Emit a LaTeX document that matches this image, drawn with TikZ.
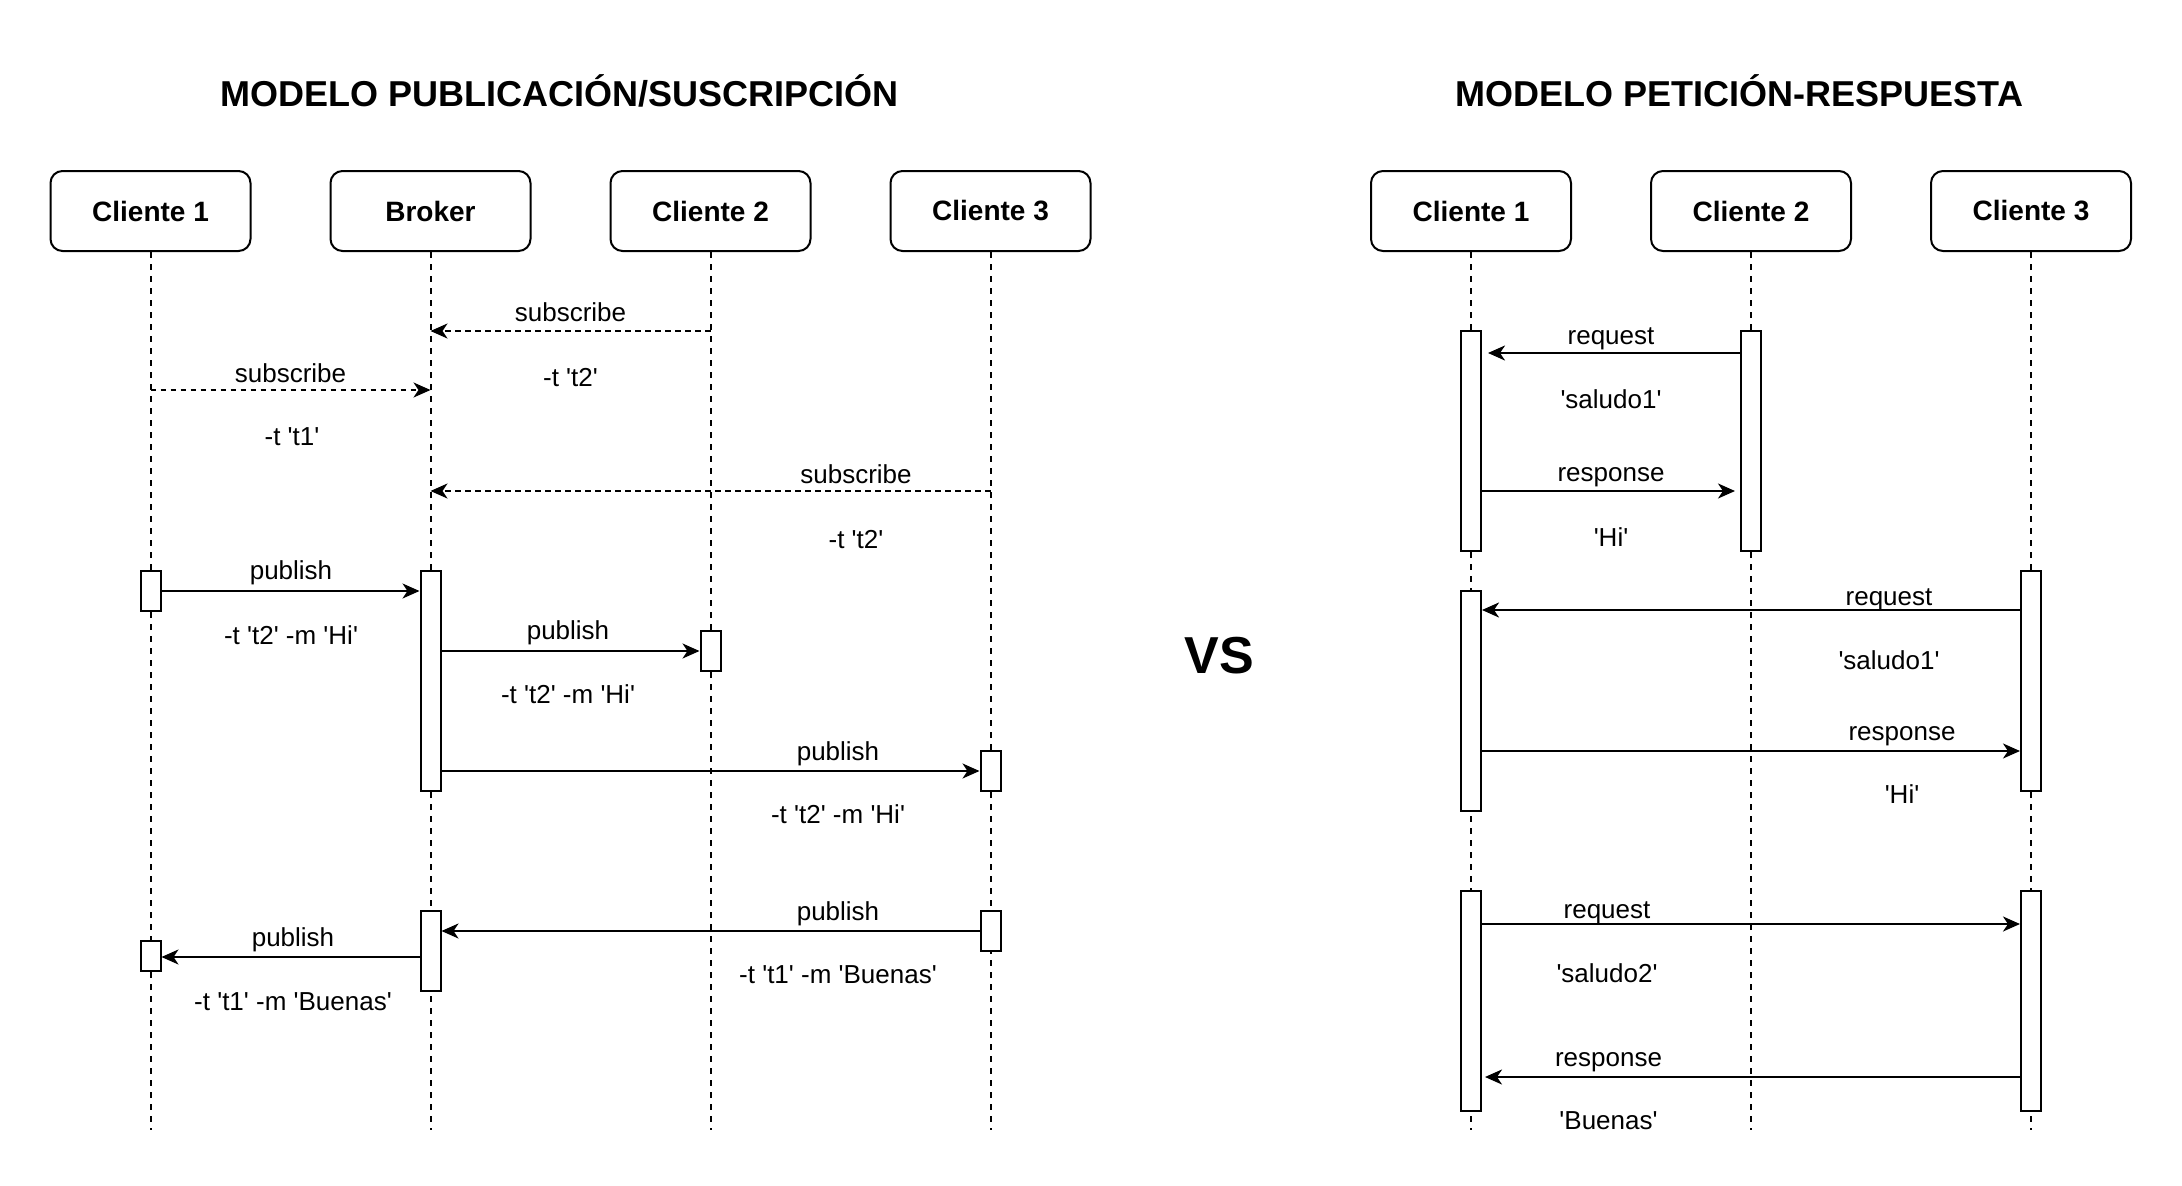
\documentclass[tikz,border=0pt]{standalone}
\usepackage{fontspec}
\setmainfont{Liberation Sans}
\usetikzlibrary{arrows.meta}
\newcommand{\myq}{\textquotesingle}
\begin{document}
\begin{tikzpicture}[x=1pt,y=-1pt,
  head/.style={draw, line width=2pt, rounded corners=12pt, minimum width=200pt, minimum height=80pt, inner sep=0pt, font=\fontsize{28}{34}\selectfont\bfseries},
  act/.style={draw, fill=white, line width=2pt, minimum width=20pt, inner sep=0pt},
  life/.style={line width=2pt, dash pattern=on 6pt off 6pt},
  msg/.style={line width=2.2pt, -{Stealth[length=17pt,width=15pt,inset=5pt]}},
  sub/.style={msg, dash pattern=on 5.5pt off 4.5pt},
  lbl/.style={font=\fontsize{26}{31}\selectfont, text height=19pt, text depth=0pt, inner sep=0pt, yshift=1.5pt},
  ttl/.style={font=\fontsize{36}{43}\selectfont\bfseries, anchor=base, inner sep=0pt}
]
\fill[white] (0,0) rectangle (2182,1186);
\useasboundingbox (0,0) rectangle (2182,1186);

% titles
\node[ttl] (t1) at (559.5,106) {MODELO PUBLICACIÓN/SUSCRIPCIÓN};
\node[ttl] (t2) at (1739.5,106) {MODELO PETICIÓN-RESPUESTA};
\node[font=\fontsize{52}{62}\selectfont\bfseries, inner sep=0pt] (vs) at (1219,656) {VS};

% heads left
\node[head] (h1) at (150.5,211) {Cliente 1};
\node[head] (h2) at (430.5,211) {Broker};
\node[head] (h3) at (710.5,211) {Cliente 2};
\node[head] (h4) at (990.5,211) {Cliente 3};
% heads right
\node[head] (k1) at (1471,211) {Cliente 1};
\node[head] (k2) at (1751,211) {Cliente 2};
\node[head] (k3) at (2031,211) {Cliente 3};

% lifeline ends
\coordinate (e1) at (150.5,1130);
\coordinate (e2) at (430.5,1130);
\coordinate (e3) at (710.5,1130);
\coordinate (e4) at (990.5,1130);
\coordinate (f1) at (1471,1130);
\coordinate (f2) at (1751,1130);
\coordinate (f3) at (2031,1130);
\foreach \h/\e in {h1/e1,h2/e2,h3/e3,h4/e4,k1/f1,k2/f2,k3/f3}
  \draw[life] (\h.south) -- (\e);

% activations left
\node[act, minimum height=40pt] (a1) at (150.5,591) {};
\node[act, minimum height=220pt] (b1) at (430.5,681) {};
\node[act, minimum height=40pt] (c2a) at (710.5,651) {};
\node[act, minimum height=40pt] (c3a) at (990.5,771) {};
\node[act, minimum height=40pt] (c3b) at (990.5,931) {};
\node[act, minimum height=80pt] (b2) at (430.5,951) {};
\node[act, minimum height=30pt] (a2) at (150.5,956) {};

% activations right
\node[act, minimum height=220pt] (r1a) at (1471,441) {};
\node[act, minimum height=220pt] (r2a) at (1751,441) {};
\node[act, minimum height=220pt] (r3a) at (2031,681) {};
\node[act, minimum height=220pt] (r1b) at (1471,701) {};
\node[act, minimum height=220pt] (r1c) at (1471,1001) {};
\node[act, minimum height=220pt] (r3b) at (2031,1001) {};

% left messages
\draw[sub] (h3.south |- 0,331) -- (h2.south |- 0,331);
\node[lbl] (l1a) at (570.5,313) {subscribe};
\node[lbl] (l1b) at (570.5,378) {-t \myq t2\myq};

\draw[sub] (h1.south |- 0,390) -- (h2.south |- 0,390);
\node[lbl] (l2a) at (290.5,374) {subscribe};
\node[lbl] (l2b) at (292,437) {-t \myq t1\myq};

\draw[sub] (h4.south |- 0,491) -- (h2.south |- 0,491);
\node[lbl] (l3a) at (856,475) {subscribe};
\node[lbl] (l3b) at (856,540) {-t \myq t2\myq};

\draw[msg] (a1.east |- 0,591) -- (b1.west |- 0,591);
\node[lbl] (l4a) at (291,571) {publish};
\node[lbl] (l4b) at (291,636) {-t \myq t2\myq{} -m \myq Hi\myq};

\draw[msg] (b1.east |- 0,651) -- (c2a.west |- 0,651);
\node[lbl] (l5a) at (568,631) {publish};
\node[lbl] (l5b) at (568,695) {-t \myq t2\myq{} -m \myq Hi\myq};

\draw[msg] (b1.east |- 0,771) -- (c3a.west |- 0,771);
\node[lbl] (l6a) at (838,752) {publish};
\node[lbl] (l6b) at (838,815) {-t \myq t2\myq{} -m \myq Hi\myq};

\draw[msg] (c3b.west |- 0,931) -- (b2.east |- 0,931);
\node[lbl] (l7a) at (838,912) {publish};
\node[lbl] (l7b) at (838,975) {-t \myq t1\myq{} -m \myq Buenas\myq};

\draw[msg] (b2.west |- 0,957) -- (a2.east |- 0,957);
\node[lbl] (l8a) at (293,938) {publish};
\node[lbl] (l8b) at (293,1002) {-t \myq t1\myq{} -m \myq Buenas\myq};

% right messages
\draw[msg, shorten >=6pt] (r2a.west |- 0,353) -- (r1a.east |- 0,353);
\node[lbl] (m1a) at (1611,336) {request};
\node[lbl] (m1b) at (1611,400) {\myq saludo1\myq};

\draw[msg, shorten >=5pt] (r1a.east |- 0,491) -- (r2a.west |- 0,491);
\node[lbl] (m2a) at (1611,473) {response};
\node[lbl] (m2b) at (1611,538) {\myq Hi\myq};

\draw[msg] (r3a.west |- 0,610) -- (r1b.east |- 0,610);
\node[lbl] (m3a) at (1889,597) {request};
\node[lbl] (m3b) at (1889,661) {\myq saludo1\myq};

\draw[msg] (r1b.east |- 0,751) -- (r3a.west |- 0,751);
\node[lbl] (m4a) at (1902,732) {response};
\node[lbl] (m4b) at (1902,795) {\myq Hi\myq};

\draw[msg] (r1c.east |- 0,924) -- (r3b.west |- 0,924);
\node[lbl] (m5a) at (1607,910) {request};
\node[lbl] (m5b) at (1607,974) {\myq saludo2\myq};

\draw[msg, shorten >=3pt] (r3b.west |- 0,1077) -- (r1c.east |- 0,1077);
\node[lbl] (m6a) at (1608.5,1058) {response};
\node[lbl] (m6b) at (1608.5,1121) {\myq Buenas\myq};
\end{tikzpicture}
\end{document}
